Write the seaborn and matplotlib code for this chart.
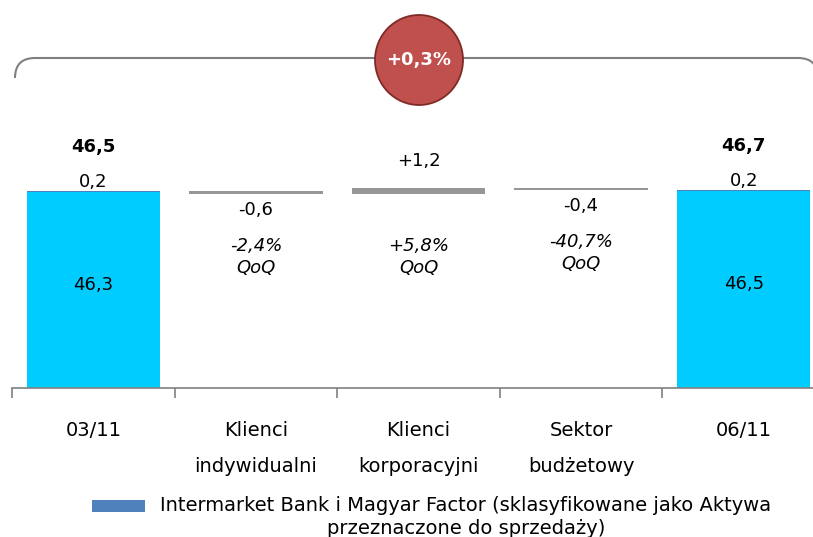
import numpy as np
import pandas as pd
import seaborn as sns
import matplotlib.pyplot as plt
from matplotlib.patches import Ellipse, Rectangle, PathPatch
from matplotlib.path import Path

# chart data
categories = ['03/11', 'Klienci\nindywidualni', 'Klienci\nkorporacyjni', 'Sektor\nbudżetowy', '06/11']
core = [46.3, 46.5]            # cyan part of the two totals
held_for_sale = [0.2, 0.2]     # thin blue part on top
totals = [46.5, 46.7]
changes = [-0.6, 1.2, -0.4]
qoq = ['-2,4%', '+5,8%', '-40,7%']
total_change = '+0,3%'
legend_text = 'Intermarket Bank i Magyar Factor (sklasyfikowane jako Aktywa\nprzeznaczone do sprzedaży)'

def fmt(v, sign=False):
    s = f'{v:+.1f}' if sign else f'{v:.1f}'
    return s.replace('.', ',')

sns.set_style('white')
plt.rcParams['font.family'] = ['DejaVu Sans']
plt.rcParams['text.color'] = 'black'
plt.rcParams['xtick.color'] = 'black'

cyan = '#00CCFF'
blue = '#4F81BD'
grey = '#969696'
fs = 13

fig = plt.figure(figsize=(8.13, 5.37), dpi=100)
ax = fig.add_axes([12 / 813, 149 / 537, 813 / 813, 288 / 537])

# total bars via seaborn
df = pd.DataFrame({'cat': categories,
                   'val': [core[0], 0, 0, 0, core[1]]})
sns.barplot(data=df, x='cat', y='val', order=categories, color=cyan,
            saturation=1, width=0.82, ax=ax)
for p in ax.patches:
    p.set_edgecolor('none')

# held-for-sale slice on top of totals
for i, pos in enumerate([0, 4]):
    ax.bar(pos, held_for_sale[i], bottom=core[i], width=0.82, color=blue, edgecolor='none')
    ax.annotate(fmt(held_for_sale[i]), (pos, totals[i]), xytext=(0, 9), textcoords='offset pixels',
                ha='center', va='center', fontsize=fs)
    ax.annotate(fmt(totals[i]), (pos, totals[i]), xytext=(0, 44), textcoords='offset pixels',
                ha='center', va='center', fontsize=fs, fontweight='bold')
    ax.annotate(fmt(core[i]), (pos, core[i]), xytext=(0, -93), textcoords='offset pixels',
                ha='center', va='center', fontsize=fs)

# floating change bars
running = totals[0]
for j, ch in enumerate(changes):
    pos = j + 1
    lo = min(running, running + ch)
    ax.bar(pos, abs(ch), bottom=lo, width=0.82, color=grey, edgecolor='none')
    if ch > 0:
        ax.annotate(fmt(ch, True), (pos, lo + abs(ch)), xytext=(0, 27), textcoords='offset pixels',
                    ha='center', va='center', fontsize=fs)
    else:
        ax.annotate(fmt(ch), (pos, lo), xytext=(0, -16), textcoords='offset pixels',
                    ha='center', va='center', fontsize=fs)
    ax.annotate(qoq[j] + '\nQoQ', (pos, lo), xytext=(0, -63), textcoords='offset pixels',
                ha='center', va='center', fontsize=fs, style='italic', linespacing=1.3)
    running += ch

ax.set_xlim(-0.5, 4.5)
ax.set_ylim(10, 63.3)
ax.set_xlabel('')
ax.set_ylabel('')
ax.set_yticks([])
ax.set_xticks(range(5))
ax.set_xticklabels(categories, fontsize=14, linespacing=2.1, va='top')
ax.tick_params(axis='x', which='major', length=0, pad=24)
ax.set_xticks(np.arange(-0.5, 5, 1), minor=True)
ax.tick_params(axis='x', which='minor', bottom=True, length=7, color='#808080',
               width=1.2, direction='out')
for s in ['top', 'right', 'left']:
    ax.spines[s].set_visible(False)
ax.spines['bottom'].set_color('#808080')
ax.spines['bottom'].set_linewidth(1.2)

# bracket across the top
W, H = 813, 537
def fx(px): return px / W
def fy(py): return 1 - py / H
r = 20
verts = [(fx(15), fy(78)), (fx(15), fy(58)), (fx(15 + r), fy(58)),
         (fx(818 - r), fy(58)), (fx(818), fy(58)), (fx(818), fy(78))]
codes = [Path.MOVETO, Path.CURVE3, Path.CURVE3, Path.LINETO, Path.CURVE3, Path.CURVE3]
fig.add_artist(PathPatch(Path(verts, codes), fill=False, edgecolor='#808080', lw=1.5,
                         transform=fig.transFigure))

fig.add_artist(Ellipse((fx(419), fy(60)), 88 / W, 90 / H, transform=fig.transFigure,
                       facecolor='#C0504D', edgecolor='#7F2A28', lw=1.3, zorder=5))
fig.text(fx(419), fy(60), total_change, ha='center', va='center', color='white',
         fontsize=13, fontweight='bold', zorder=6)

# legend
fig.add_artist(Rectangle((fx(92), fy(512)), 53 / W, 12 / H, transform=fig.transFigure,
                         facecolor=blue, edgecolor='none'))
fig.text(fx(466), fy(496), legend_text, ha='center', va='top', fontsize=14,
         linespacing=1.25)

fig.savefig('out.png', dpi=100)
